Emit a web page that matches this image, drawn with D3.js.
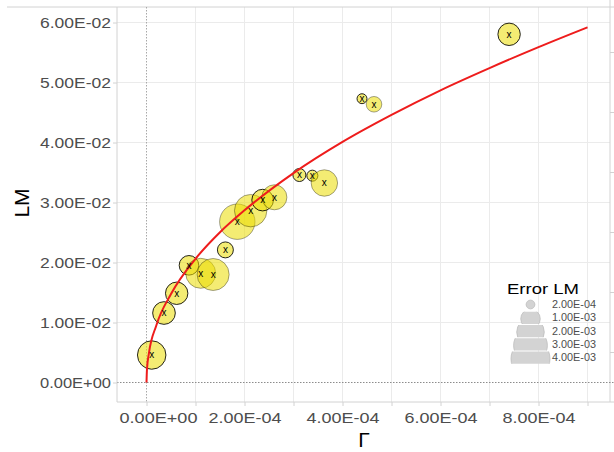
<!DOCTYPE html>
<html>
<head>
<meta charset="utf-8">
<script src="https://cdn.jsdelivr.net/npm/d3@7"></script>
<style>
  body { margin: 0; background: #fff; }
  svg { display: block; font-family: "Liberation Sans", Arial, sans-serif; }
</style>
</head>
<body>
<svg id="chart" width="614" height="452"></svg>
<script>
// ---- data ----
const gammaValues = [1.06e-5, 3.57e-5, 6.16e-5, 8.67e-5, 1.106e-4, 1.36e-4, 1.61e-4, 1.853e-4, 2.126e-4, 2.37e-4, 2.61e-4, 3.12e-4, 3.385e-4, 3.63e-4, 4.398e-4, 4.643e-4, 7.40e-4];
const lmValues    = [0.00458, 0.01158, 0.01487, 0.01953, 0.0182, 0.0180, 0.0221, 0.0268, 0.02864, 0.0304, 0.03087, 0.03458, 0.03447, 0.03325, 0.0473, 0.04637, 0.05803];
const errorLM     = [2.13e-3, 1.35e-3, 1.32e-3, 1.01e-3, 2.37e-3, 2.7e-3, 6.7e-4, 3.3e-3, 2.77e-3, 1.23e-3, 1.65e-3, 4.45e-4, 3.2e-4, 1.84e-3, 2.6e-4, 6.4e-4, 1.32e-3];
const pointGroup  = ["A","A","A","A","B","B","A","B","B","A","B","A","A","B","A","B","A"];
const pointLabel  = "x";

const fitGamma = [0, 1e-6, 5e-6, 2e-5, 5e-5, 1e-4, 1.5e-4, 2e-4, 3e-4, 4e-4, 5e-4, 6e-4, 7e-4, 8e-4, 9e-4];
const fitLM    = [0, 0.00226, 0.0049, 0.00951, 0.01476, 0.02062, 0.02505, 0.0287, 0.0349, 0.0401, 0.0446, 0.0487, 0.0524, 0.0559, 0.0592];

const yTicks      = [0, 0.01, 0.02, 0.03, 0.04, 0.05, 0.06];
const yTickLabels = ["0.00E+00","1.00E-02","2.00E-02","3.00E-02","4.00E-02","5.00E-02","6.00E-02"];
const xTicks      = [0, 1e-4, 2e-4, 3e-4, 4e-4, 5e-4, 6e-4, 7e-4, 8e-4, 9e-4];
const xTickLabels = ["0.00E+00","","2.00E-04","","4.00E-04","","6.00E-04","","8.00E-04",""];
const yMinorTicks = [0.005, 0.015, 0.025, 0.035, 0.045, 0.055];

const legendValues = [2e-4, 1e-3, 2e-3, 3e-3, 4e-3];
const legendLabels = ["2.00E-04","1.00E-03","2.00E-03","3.00E-03","4.00E-03"];
const legendTitle = "Error LM";
const xTitle = "Γ";
const yTitle = "LM";

// ---- layout ----
const panel = { left: 117, right: 610, top: 7, bottom: 402 };
const svg = d3.select("#chart");

const x = d3.scaleLinear().domain([0, 9e-4]).range([146.5, 587.5]);
const y = d3.scaleLinear().domain([0, 0.06]).range([382.5, 22.5]);
const r = d3.scaleSqrt().domain([0, 4e-3]).range([0, 19.5]);
const strokeOf = d3.scaleOrdinal().domain(["A","B"]).range(["rgba(0,0,0,0.85)","rgba(0,0,0,0.35)"]);

const gridColor = "#ebebeb";
const axisColor = "#d2d2d2";
const textColor = "#4d4d4d";

// grid
svg.append("g").selectAll("line").data(xTicks.slice(1)).join("line")
  .attr("x1", d => x(d)).attr("x2", d => x(d))
  .attr("y1", panel.top).attr("y2", panel.bottom)
  .attr("stroke", gridColor).attr("stroke-width", 1);
svg.append("g").selectAll("line").data(yTicks.slice(1)).join("line")
  .attr("x1", panel.left).attr("x2", panel.right)
  .attr("y1", d => y(d)).attr("y2", d => y(d))
  .attr("stroke", gridColor).attr("stroke-width", 1);

// panel border lines (top, right)
svg.append("line").attr("x1", 7).attr("x2", 614).attr("y1", panel.top).attr("y2", panel.top)
  .attr("stroke", axisColor);
svg.append("line").attr("x1", panel.right).attr("x2", panel.right).attr("y1", 0).attr("y2", panel.bottom)
  .attr("stroke", axisColor);
svg.append("g").selectAll("line").data(yMinorTicks).join("line")
  .attr("x1", panel.right).attr("x2", panel.right + 4)
  .attr("y1", d => y(d)).attr("y2", d => y(d))
  .attr("stroke", axisColor);

// zero reference lines
svg.append("line").attr("x1", panel.left).attr("x2", 614).attr("y1", y(0)).attr("y2", y(0))
  .attr("stroke", "#8c8c8c").attr("stroke-dasharray", "1.5,1.5").attr("stroke-width", 1);
svg.append("line").attr("x1", x(0)).attr("x2", x(0)).attr("y1", panel.top).attr("y2", panel.bottom)
  .attr("stroke", "#a8a8a8").attr("stroke-dasharray", "1.5,1.5").attr("stroke-width", 1);

// axes
const yAxis = svg.append("g").attr("transform", `translate(${panel.left},0)`)
  .call(d3.axisLeft(y).tickValues(yTicks).tickFormat((d, i) => yTickLabels[i]).tickSize(4).tickPadding(2));
yAxis.select(".domain").remove();
yAxis.selectAll(".tick line").attr("stroke", axisColor);
yAxis.selectAll(".tick text").attr("fill", textColor).attr("font-size", 15.5)
  .attr("font-family", "Liberation Sans, Arial, sans-serif")
  .attr("textLength", 71).attr("lengthAdjust", "spacingAndGlyphs");
svg.append("line").attr("x1", panel.left).attr("x2", panel.left).attr("y1", panel.top).attr("y2", panel.bottom)
  .attr("stroke", axisColor);

const xAxis = svg.append("g").attr("transform", `translate(0,${panel.bottom})`)
  .call(d3.axisBottom(x).tickValues(xTicks).tickFormat((d, i) => xTickLabels[i]).tickSize(4).tickPadding(5.5));
xAxis.select(".domain").remove();
xAxis.selectAll(".tick line").attr("stroke", axisColor);
xAxis.selectAll(".tick text").attr("fill", textColor).attr("font-size", 15.5)
  .attr("font-family", "Liberation Sans, Arial, sans-serif")
  .attr("textLength", 73).attr("lengthAdjust", "spacingAndGlyphs");
xAxis.selectAll(".tick text").filter(d => d === 0)
  .attr("dx", 11.5).attr("textLength", 78);
xAxis.selectAll(".tick text").filter((d, i) => xTickLabels[i] === "").remove();
svg.append("line").attr("x1", panel.left).attr("x2", 614).attr("y1", panel.bottom).attr("y2", panel.bottom)
  .attr("stroke", axisColor);

// axis titles
svg.append("text").attr("x", 364).attr("y", 447).attr("text-anchor", "middle")
  .attr("font-size", 21).attr("fill", "#000").text(xTitle);
svg.append("text").attr("transform", "translate(29,203) rotate(-90)").attr("text-anchor", "middle")
  .attr("font-size", 21).attr("fill", "#000").text(yTitle);

// points
const pts = gammaValues.map((g, i) => ({ g, lm: lmValues[i], err: errorLM[i], grp: pointGroup[i] }));
const pg = svg.append("g");
pg.selectAll("circle").data(pts).join("circle")
  .attr("cx", d => x(d.g)).attr("cy", d => y(d.lm)).attr("r", d => r(d.err))
  .attr("fill", "#ebdc00").attr("fill-opacity", 0.55)
  .attr("stroke", d => strokeOf(d.grp)).attr("stroke-width", 1);

// fit curve
const line = d3.line().x((d, i) => x(fitGamma[i])).y(d => y(d)).curve(d3.curveMonotoneX);
svg.append("path").datum(fitLM).attr("d", line)
  .attr("fill", "none").attr("stroke", "#ee1c1c").attr("stroke-width", 2);

// x labels on points
svg.append("g").selectAll("text").data(pts).join("text")
  .attr("x", d => x(d.g)).attr("y", d => y(d.lm)).attr("dy", "0.33em")
  .attr("text-anchor", "middle").attr("font-size", 10).attr("fill", "#000")
  .text(pointLabel);

// legend
const lg = svg.append("g");
lg.append("text").attr("x", 507).attr("y", 294).attr("font-size", 15.5).attr("fill", "#000")
  .attr("textLength", 72).attr("lengthAdjust", "spacingAndGlyphs").text(legendTitle);
const rowY = d3.scaleLinear().domain([0, 4]).range([304.5, 357.7]);
const rowH = 12.3;
const defs = svg.append("defs");
legendValues.forEach((v, i) => {
  const cy = rowY(i);
  const id = "lgclip" + i;
  const top = i === 0 ? cy - 10 : cy - rowH / 2;
  defs.append("clipPath").attr("id", id).append("rect")
    .attr("x", 500).attr("y", top).attr("width", 60).attr("height", cy + rowH / 2 - top);
  lg.append("circle").attr("cx", 530.5).attr("cy", i === 0 ? cy : cy + 1)
    .attr("r", r(v)).attr("fill", "#d3d3d3").attr("stroke", "#bcbcbc").attr("stroke-width", 0.8)
    .attr("clip-path", `url(#${id})`);
  lg.append("text").attr("x", 552).attr("y", cy).attr("dy", "0.35em")
    .attr("font-size", 10.5).attr("fill", textColor)
    .attr("textLength", 44).attr("lengthAdjust", "spacingAndGlyphs").text(legendLabels[i]);
});
</script>
</body>
</html>
